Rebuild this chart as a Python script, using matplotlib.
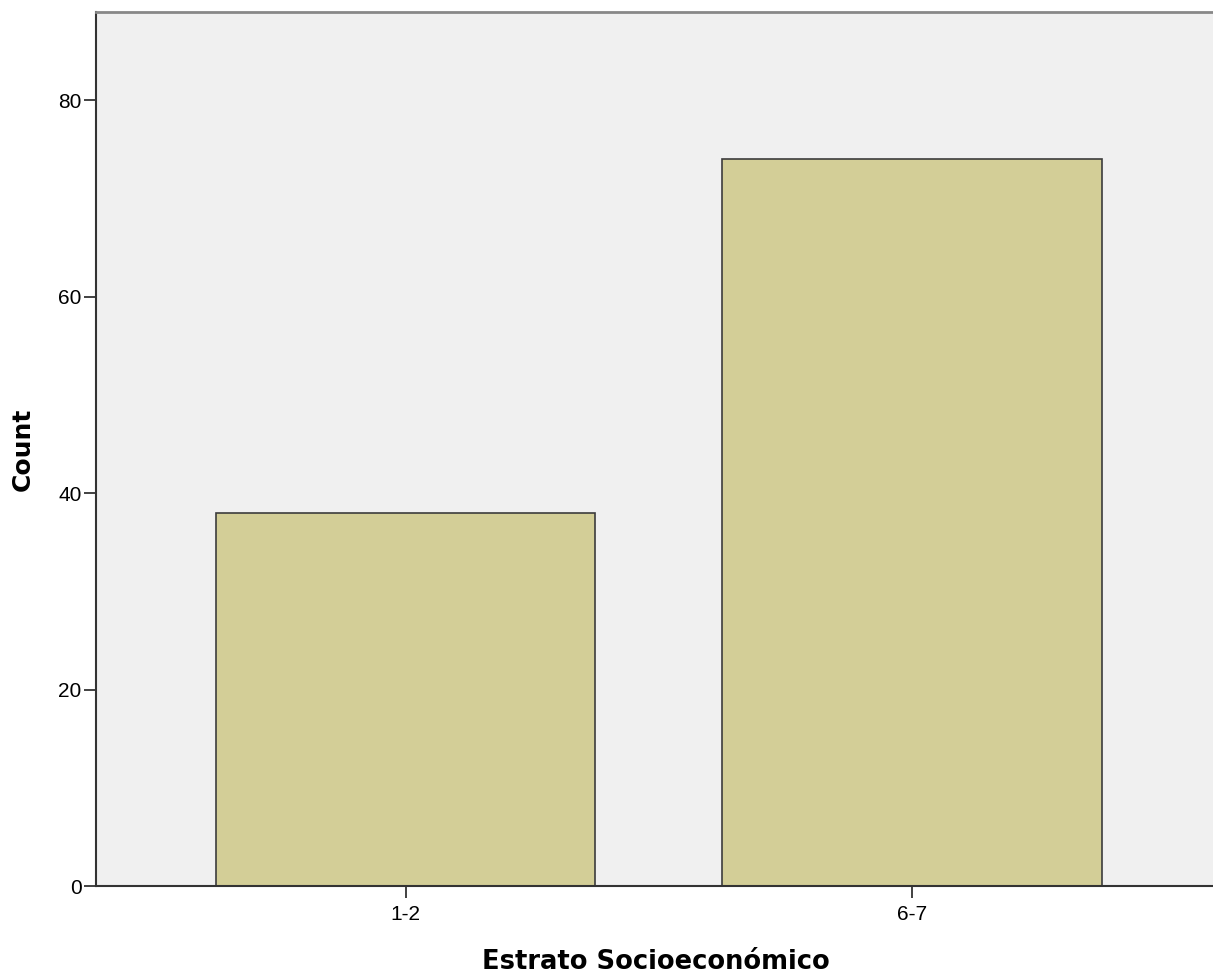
import matplotlib.pyplot as plt

# datos
categorias = ["1-2", "6-7"]
conteos = [38, 74]

plt.rcParams["font.family"] = ["Liberation Sans", "DejaVu Sans"]

W, H = 1213, 976
fig = plt.figure(figsize=(W / 100, H / 100), dpi=100)
ax = fig.add_axes([96 / W, 90 / H, 1 - 96 / W + 0.002, (886 - 12) / H])
ax.set_facecolor("#f0f0f0")

x = list(range(len(categorias)))
ax.bar(x, conteos, width=0.75, color="#d3ce97", edgecolor="#3c3c3c", linewidth=1.2, zorder=2)

ax.set_xlim(-0.612, 1.6)
ax.set_ylim(0, 89)
ax.set_xticks(x)
ax.set_xticklabels(categorias)
ax.set_yticks([0, 20, 40, 60, 80])

for s in ["left", "bottom"]:
    ax.spines[s].set_color("#333333")
    ax.spines[s].set_linewidth(1.5)
ax.spines["top"].set_color("#888888")
ax.spines["top"].set_linewidth(2)
ax.spines["right"].set_visible(False)

ax.tick_params(axis="x", length=8.5, width=1.3, color="#333333", labelsize=15, pad=5)
ax.tick_params(axis="y", length=9, width=1.3, color="#333333", labelsize=15, pad=1.5)

ax.set_xlabel("Estrato Socioeconómico", fontsize=18.5, fontweight="bold", family="DejaVu Sans")
ax.set_ylabel("Count", fontsize=18, fontweight="bold", family="DejaVu Sans")
ax.xaxis.set_label_coords(0.5, (H - 949 - 90) / 874)
ax.yaxis.set_label_coords((35 - 96) / 1117, 0.5)

fig.savefig("out.png", dpi=100)
